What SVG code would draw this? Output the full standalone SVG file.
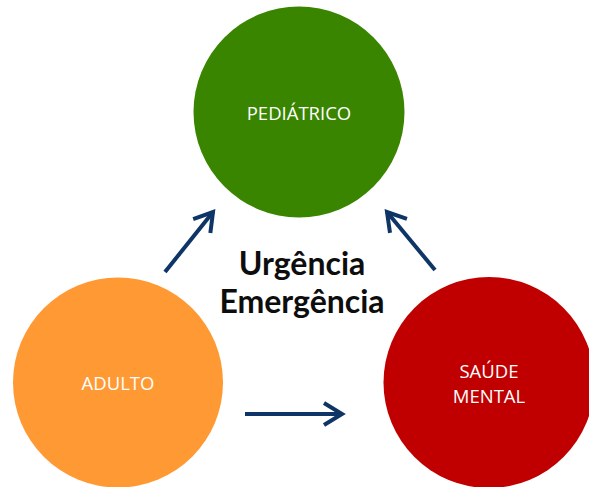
<svg xmlns="http://www.w3.org/2000/svg" width="589" height="487" viewBox="0 0 589 487">
<style>
.lbl{font-family:"Open Sans","Liberation Sans",sans-serif;font-size:18.5px;fill:#ffffff;text-anchor:middle}
.title{font-family:Lato,"Liberation Sans",sans-serif;font-weight:bold;font-size:32px;fill:#0d0d0d;text-anchor:middle}
.conn{stroke:#0e3566;stroke-width:4;fill:none}
</style>
<defs>
<marker id="ah" markerUnits="userSpaceOnUse" markerWidth="30" markerHeight="30" refX="20" refY="15" orient="auto" viewBox="0 0 30 30">
<polyline points="2,4 20,15 2,26" fill="none" stroke="#0e3566" stroke-width="4"/>
</marker>
</defs>
<rect width="589" height="487" fill="#ffffff"/>
<g id="pediatrico">
<circle cx="299" cy="112" r="105.5" fill="#3a8500"/>
<text class="lbl" x="299" y="119.5">PEDIÁTRICO</text>
</g>
<g id="adulto">
<circle cx="118" cy="382.5" r="105" fill="#ff9933"/>
<text class="lbl" x="118" y="389.5">ADULTO</text>
</g>
<g id="saude-mental">
<circle cx="489" cy="382.5" r="105.5" fill="#c00000"/>
<text class="lbl" x="489" y="378">SAÚDE</text>
<text class="lbl" x="489" y="402.5">MENTAL</text>
</g>
<g id="titulo">
<text class="title" x="302" y="275">Urgência</text>
<text class="title" x="302" y="313">Emergência</text>
</g>
<g id="connectors">
<line class="conn" x1="165" y1="272" x2="213" y2="212" marker-end="url(#ah)"/>
<line class="conn" x1="435" y1="270" x2="387" y2="212" marker-end="url(#ah)"/>
<line class="conn" x1="245" y1="414" x2="342" y2="414" marker-end="url(#ah)"/>
</g>
</svg>
